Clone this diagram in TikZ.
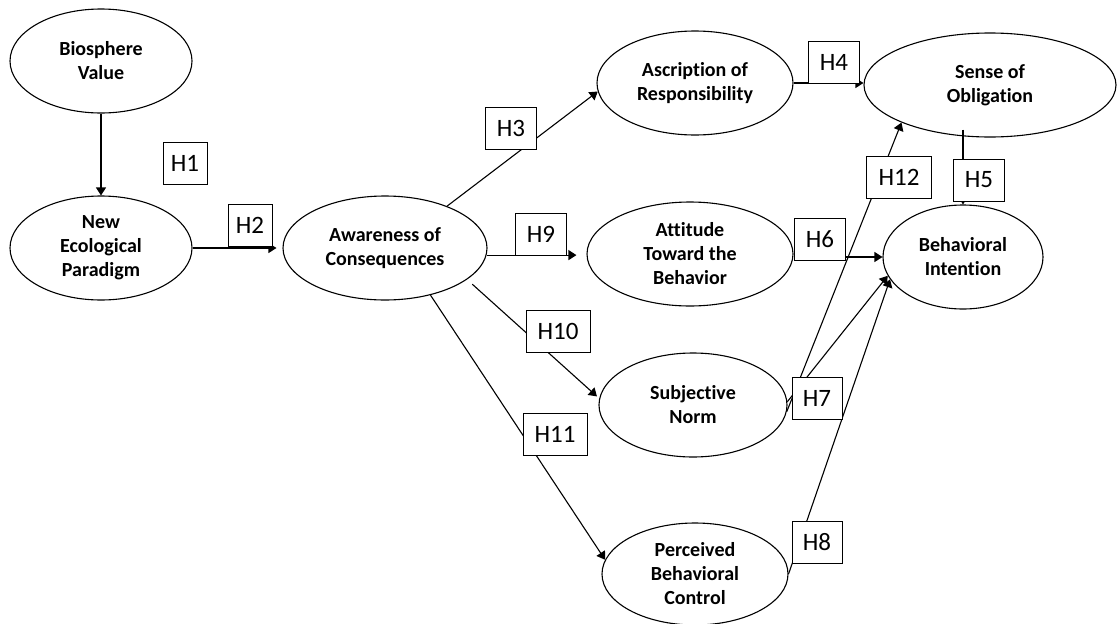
\documentclass[tikz,border=0pt]{standalone}
\usepackage{fontspec}
\setmainfont{Carlito}[Ligatures=NoCommon]
\usetikzlibrary{shapes.geometric,arrows.meta,calc}
\begin{document}
\begin{tikzpicture}[x=1pt,y=-1pt,
  ell/.style={draw, ellipse, line width=1.1pt, inner sep=0pt, align=center,
    font=\bfseries\fontsize{20}{24}\selectfont},
  hyp/.style={draw, fill=white, line width=1pt, minimum height=42pt, minimum width=51pt,
    inner sep=0pt, font=\fontsize{25}{30}\selectfont},
  arr/.style={line width=1.1pt, -{Triangle[length=8pt,width=10pt]}}]
\useasboundingbox (0,0) rectangle (1117,624);
% constructs
\node[ell, minimum width=182pt, minimum height=104pt] (bv) at (101,61) {Biosphere\\Value};
\node[ell, minimum width=182pt, minimum height=104pt] (nep) at (101,248) {New\\Ecological\\Paradigm};
\node[ell, minimum width=204pt, minimum height=104pt] (ac) at (385,248) {Awareness of\\Consequences};
\node[ell, minimum width=196pt, minimum height=104pt] (ar) at (695,83) {Ascription of\\Responsibility};
\node[ell, minimum width=252pt, minimum height=104pt] (so) at (990,85) {Sense of\\Obligation};
\node[ell, minimum width=206pt, minimum height=104pt] (atb) at (690,254) {Attitude\\Toward the\\Behavior};
\node[ell, minimum width=160pt, minimum height=104pt] (bi) at (963,257) {Behavioral\\Intention};
\node[ell, minimum width=188pt, minimum height=104pt] (sn) at (693,405) {Subjective\\Norm};
\node[ell, minimum width=186pt, minimum height=102pt] (pbc) at (695,574) {Perceived\\Behavioral\\Control};
% paths
\draw[arr] (bv.south) -- (nep.north);
\draw[arr, shorten >=6pt] (nep.east) -- (ac.west);
\draw[arr] (ac.34) -- (ar.185);
\draw[arr, shorten >=10pt] (ac.-4) -- (ac.-4 -| atb.west);
\draw[arr, shorten <=7pt, shorten >=3pt] (ac.-21) -- (sn.176);
\draw[arr] (ac.-46) -- (pbc.171);
\draw[arr] (ar.east) -- (ar.east -| so.west);
\draw[arr, shorten <=-8pt] (bi.north |- so.south) -- (bi.north);
\draw[arr] (bi.west -| atb.east) -- (bi.west);
\draw[arr] (sn.-4) -- (so.203);
\draw[arr] (sn.2) -- (bi.194);
\draw[arr] (pbc.east) -- (bi.197);
% hypothesis labels
\node[hyp, minimum width=44pt] (h1) at (185,163) {H1};
\node[hyp, minimum width=44pt] (h2) at (250,225) {H2};
\node[hyp] (h3) at (511,128) {H3};
\node[hyp] (h9) at (541,234) {H9};
\node[hyp] (h4) at (834,62) {H4};
\node[hyp, minimum width=65pt] (h12) at (899,177) {H12};
\node[hyp] (h5) at (979,180) {H5};
\node[hyp] (h6) at (820,239) {H6};
\node[hyp, minimum width=64pt] (h10) at (558,331) {H10};
\node[hyp, minimum width=64pt] (h11) at (555,434) {H11};
\node[hyp, minimum width=50pt] (h7) at (817,398) {H7};
\node[hyp, minimum width=50pt] (h8) at (817,542) {H8};
\end{tikzpicture}
\end{document}
